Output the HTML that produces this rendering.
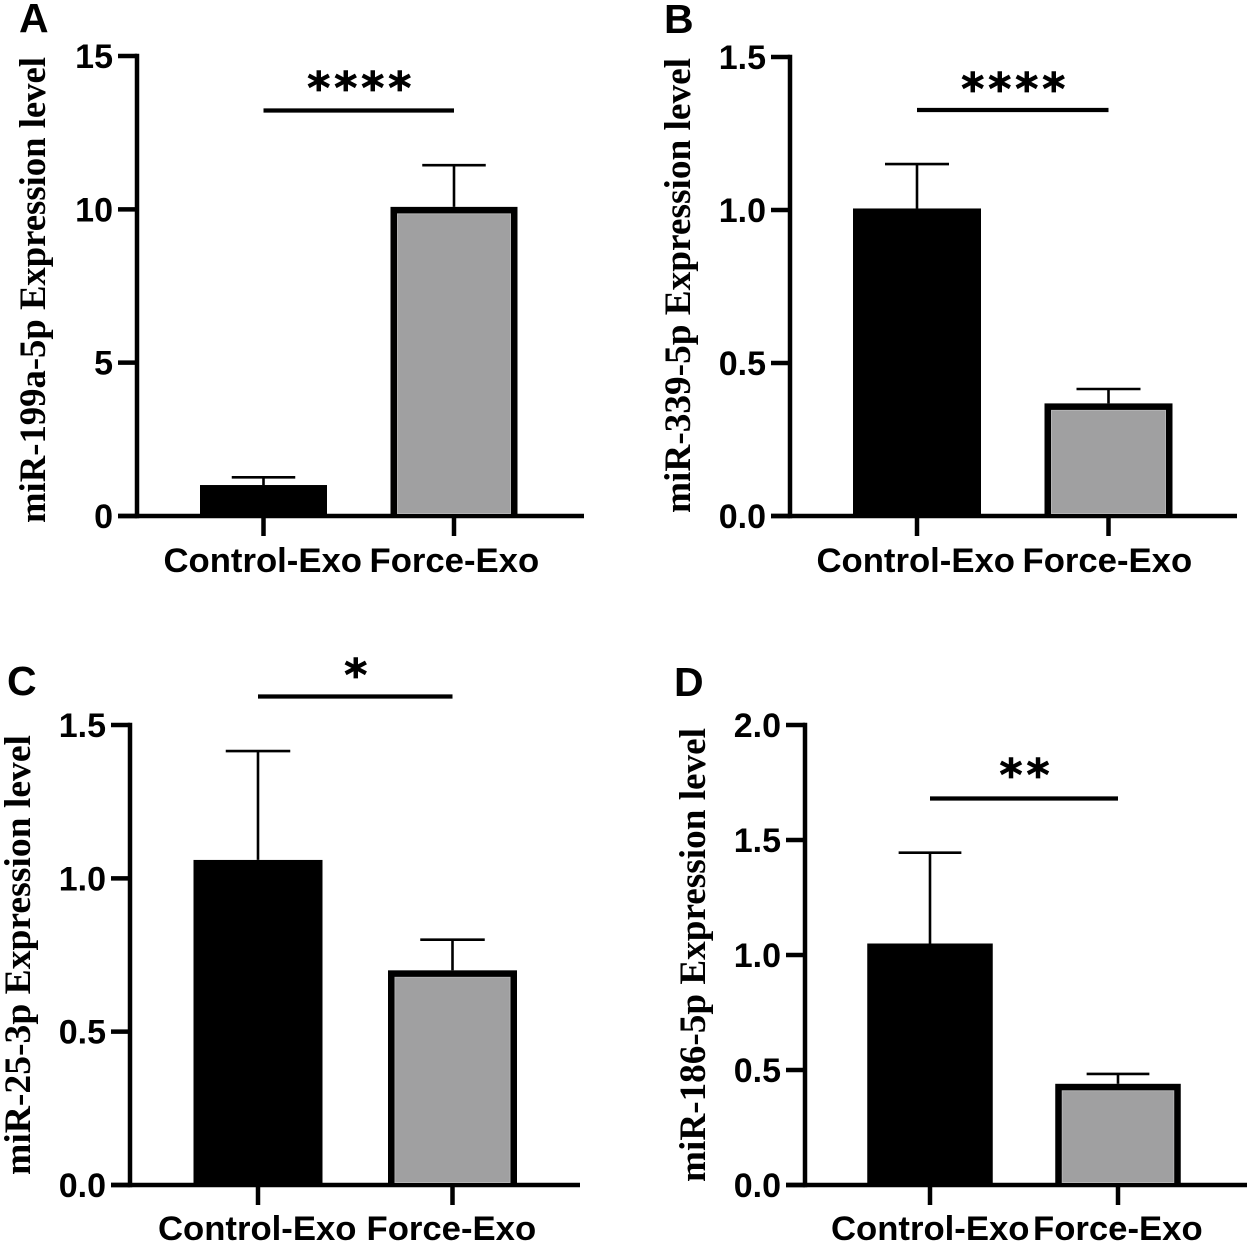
<!DOCTYPE html>
<html lang="en">
<head>
<meta charset="utf-8">
<title>miRNA expression bar charts</title>
<style>
  html, body { margin: 0; padding: 0; background: #fff; }
  svg { display: block; }
  .tick { font: bold 34px "Liberation Sans", Arial, sans-serif; fill: #000; }
  .cat { font: bold 34.7px "Liberation Sans", Arial, sans-serif; fill: #000; }
  .letter { font: bold 41px "Liberation Sans", Arial, sans-serif; fill: #000; }
  .ytitle { font: bold 37px "Liberation Serif", "Times New Roman", serif; fill: #000; }
  .star { font: bold 44px "DejaVu Sans", sans-serif; fill: #000; stroke: #000; stroke-width: 0.8px; letter-spacing: 4px; }
</style>
</head>
<body>
<svg id="figure" xmlns="http://www.w3.org/2000/svg" width="1250" height="1244" viewBox="0 0 1250 1244">
  <rect x="0" y="0" width="1250" height="1244" fill="#ffffff"/>
</svg>
<script>
// ---- chart data ----
const categories = ['Control-Exo', 'Force-Exo'];

const panelALetter = 'A';
const panelATitle = 'miR-199a-5p Expression level';
const panelAMeans = [1.01, 10.08];
const panelAErrors = [0.25, 1.36];
const panelATicks = [0, 5, 10, 15];
const panelATickLabels = ['0', '5', '10', '15'];
const panelAStars = '****';

const panelBLetter = 'B';
const panelBTitle = 'miR-339-5p Expression level';
const panelBMeans = [1.005, 0.368];
const panelBErrors = [0.145, 0.047];
const panelBTicks = [0, 0.5, 1.0, 1.5];
const panelBTickLabels = ['0.0', '0.5', '1.0', '1.5'];
const panelBStars = '****';

const panelCLetter = 'C';
const panelCTitle = 'miR-25-3p Expression level';
const panelCMeans = [1.06, 0.70];
const panelCErrors = [0.355, 0.10];
const panelCTicks = [0, 0.5, 1.0, 1.5];
const panelCTickLabels = ['0.0', '0.5', '1.0', '1.5'];
const panelCStars = '*';

const panelDLetter = 'D';
const panelDTitle = 'miR-186-5p Expression level';
const panelDMeans = [1.05, 0.44];
const panelDErrors = [0.395, 0.043];
const panelDTicks = [0, 0.5, 1.0, 1.5, 2.0];
const panelDTickLabels = ['0.0', '0.5', '1.0', '1.5', '2.0'];
const panelDStars = '**';

// ---- page layout (geometry only) ----
const layoutA = { axisX: 137, y0: 516, yTop: 56, xEnd: 584, x0: 263.5, xStep: 190.5, barW: 127, catX: [163.5, 369.5], catY: 572, letterX: 19, letterY: 32, titleX: 45, titleStart: 523, titleLen: 466, sigY: 110.5, starY: 103 };
const layoutB = { axisX: 790, y0: 516, yTop: 57, xEnd: 1237, x0: 917, xStep: 191.5, barW: 128, catX: [816.5, 1022.5], catY: 572, letterX: 664, letterY: 33, titleX: 690, titleStart: 513, titleLen: 455, sigY: 110, starY: 104 };
const layoutC = { axisX: 130, y0: 1185, yTop: 725, xEnd: 580, x0: 258, xStep: 194.5, barW: 129, catX: [158, 366.5], catY: 1240, letterX: 7, letterY: 695, titleX: 30, titleStart: 1175, titleLen: 440, sigY: 696.5, starY: 690 };
const layoutD = { axisX: 805, y0: 1185, yTop: 725, xEnd: 1247, x0: 930, xStep: 188, barW: 125.5, catX: [831, 1033], catY: 1240, letterX: 674, letterY: 696, titleX: 705, titleStart: 1182, titleLen: 454, sigY: 798.5, starY: 790 };

const NS = 'http://www.w3.org/2000/svg';
const figure = document.getElementById('figure');

function add(parent, tag, attrs, text) {
  const el = document.createElementNS(NS, tag);
  for (const k in attrs) el.setAttribute(k, attrs[k]);
  if (text !== undefined) el.textContent = text;
  parent.appendChild(el);
  return el;
}

function drawPanel(key, letter, title, means, errors, ticks, tickLabels, stars, L) {
  const maxTick = Math.max(...ticks);
  const y = v => L.y0 - (v / maxTick) * (L.y0 - L.yTop);
  const x = i => L.x0 + i * L.xStep;

  const g = add(figure, 'g', {});
  
  

  const letterEl = add(g, 'text', { class: 'letter', x: L.letterX, y: L.letterY }, letter);
  
  

  const titleEl = add(g, 'text', {
    class: 'ytitle', x: 0, y: 0,
    transform: 'translate(' + L.titleX + ' ' + L.titleStart + ') rotate(-90)',
    textLength: L.titleLen, lengthAdjust: 'spacingAndGlyphs'
  }, title);
  
  

  // error bars sit behind the bars
  means.forEach((m, i) => {
    const cx = x(i);
    const topY = y(m + errors[i]);
    const stem = add(g, 'line', { x1: cx, x2: cx, y1: y(m), y2: topY, stroke: '#000', 'stroke-width': 2.6 });
    
    
    const cap = add(g, 'line', { x1: cx - L.barW / 4, x2: cx + L.barW / 4, y1: topY, y2: topY, stroke: '#000', 'stroke-width': 2.6 });
    
    
  });

  // axes
  const yAxis = add(g, 'line', { x1: L.axisX, x2: L.axisX, y1: L.yTop - 2.2, y2: L.y0 + 2.2, stroke: '#000', 'stroke-width': 4.5 });
  
  
  const xAxis = add(g, 'line', { x1: L.axisX - 19, x2: L.xEnd, y1: L.y0, y2: L.y0, stroke: '#000', 'stroke-width': 4.5 });
  
  

  ticks.forEach((t, i) => {
    const tm = add(g, 'line', { x1: L.axisX - 19, x2: L.axisX, y1: y(t), y2: y(t), stroke: '#000', 'stroke-width': 4.5 });
    
    
    const lb = add(g, 'text', { class: 'tick', x: L.axisX - 24, y: y(t) + 12, 'text-anchor': 'end' }, tickLabels[i]);
    
    
  });

  // bars
  means.forEach((m, i) => {
    const cx = x(i);
    const outer = add(g, 'rect', { x: cx - L.barW / 2, y: y(m), width: L.barW, height: L.y0 + 2 - y(m), fill: '#000' });
    
    
    if (i === 1) {
      const inner = add(g, 'rect', {
        x: cx - L.barW / 2 + 7, y: y(m) + 7, width: L.barW - 14,
        height: Math.max(0, L.y0 - 2.5 - (y(m) + 7)),
        fill: '#a0a0a1', stroke: '#b4b4b5', 'stroke-width': 1
      });
      
      
    }
    const tk = add(g, 'line', { x1: cx, x2: cx, y1: L.y0, y2: L.y0 + 20, stroke: '#000', 'stroke-width': 4.5 });
    
    
    const cl = add(g, 'text', { class: 'cat', x: L.catX[i], y: L.catY }, categories[i]);
    
    
  });

  // significance marker
  const sig = add(g, 'line', { x1: x(0), x2: x(1), y1: L.sigY, y2: L.sigY, stroke: '#000', 'stroke-width': 4.2 });
  
  
  const st = add(g, 'text', { class: 'star', x: (x(0) + x(1)) / 2 + 2.5, y: L.starY, 'text-anchor': 'middle' }, stars);
  
  
}

drawPanel('a', panelALetter, panelATitle, panelAMeans, panelAErrors, panelATicks, panelATickLabels, panelAStars, layoutA);
drawPanel('b', panelBLetter, panelBTitle, panelBMeans, panelBErrors, panelBTicks, panelBTickLabels, panelBStars, layoutB);
drawPanel('c', panelCLetter, panelCTitle, panelCMeans, panelCErrors, panelCTicks, panelCTickLabels, panelCStars, layoutC);
drawPanel('d', panelDLetter, panelDTitle, panelDMeans, panelDErrors, panelDTicks, panelDTickLabels, panelDStars, layoutD);
</script>
</body>
</html>
